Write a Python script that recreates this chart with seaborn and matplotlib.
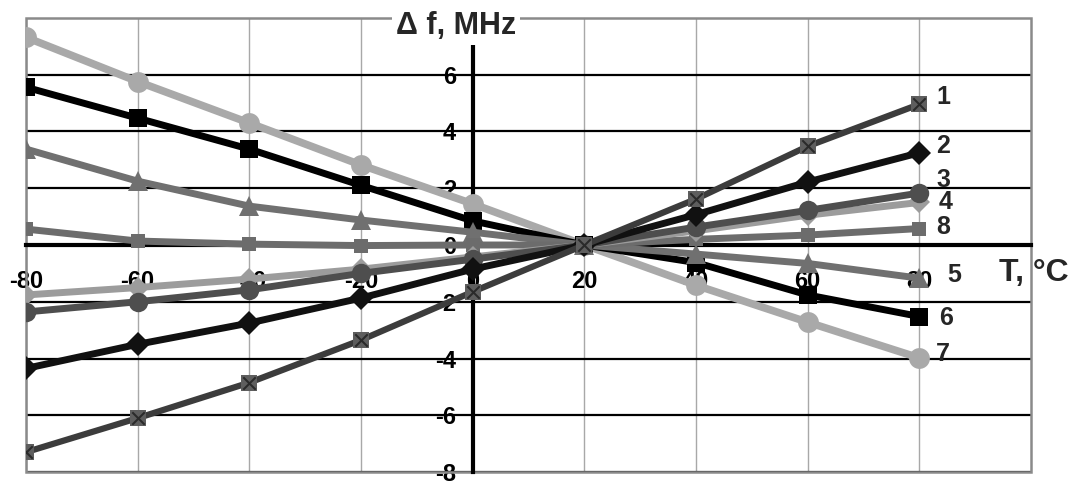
import numpy as np
import pandas as pd
import matplotlib
matplotlib.use("Agg")
import matplotlib.pyplot as plt
import seaborn as sns
from matplotlib.patches import Rectangle

# ---- data ----
T = [-80, -60, -40, -20, 0, 20, 40, 60, 80]
s1 = [-7.30, -6.10, -4.85, -3.35, -1.65, 0.0, 1.62, 3.48, 4.96]
s2 = [-4.35, -3.50, -2.75, -1.87, -0.85, 0.0, 1.07, 2.22, 3.25]
s3 = [-2.36, -2.00, -1.58, -1.00, -0.50, 0.0, 0.63, 1.22, 1.83]
s4 = [-1.76, -1.50, -1.20, -0.85, -0.42, 0.0, 0.50, 1.05, 1.50]
s5 = [3.38, 2.25, 1.37, 0.88, 0.45, 0.0, -0.32, -0.65, -1.17]
s6 = [5.56, 4.47, 3.38, 2.10, 0.85, 0.0, -0.62, -1.76, -2.52]
s7 = [7.32, 5.76, 4.30, 2.82, 1.45, 0.0, -1.42, -2.72, -3.98]
s8 = [0.56, 0.14, 0.03, -0.02, 0.00, 0.0, 0.20, 0.35, 0.58]
series_names = ["1", "2", "3", "4", "5", "6", "7", "8"]
x_ticks = [-80, -60, -40, -20, 0, 20, 40, 60, 80]
y_ticks = [-8, -6, -4, -2, 0, 2, 4, 6]
x_label = "T, °C"
y_label = "\u0394 f, MHz"

values = {"1": s1, "2": s2, "3": s3, "4": s4, "5": s5, "6": s6, "7": s7, "8": s8}

# styles
styles = {
    "7": dict(color="#a9a9a9", marker="o", ms=15, lw=5.5),
    "6": dict(color="#000000", marker="s", ms=13, lw=5.0),
    "5": dict(color="#707070", marker="^", ms=14, lw=5.0),
    "8": dict(color="#6c6c6c", marker="s", ms=10, lw=5.0),
    "4": dict(color="#9c9c9c", marker="D", ms=11, lw=5.0),
    "3": dict(color="#4e4e4e", marker="o", ms=14, lw=5.0),
    "2": dict(color="#111111", marker="D", ms=12, lw=5.0),
    "1": dict(color="#3c3c3c", marker="s", ms=12, lw=4.5),
}
label_dy = {"1": 0.25, "2": 0.25, "3": 0.45, "4": 0.0, "8": 0.05, "5": 0.1, "6": -0.05, "7": 0.15}
label_dx = {"1": 3, "2": 3, "3": 3, "4": 3.5, "8": 3, "5": 5, "6": 3.5, "7": 3}

sns.set_theme(style="white")
plt.rcParams["font.family"] = ["Liberation Sans", "DejaVu Sans"]
plt.rcParams["font.weight"] = "bold"
plt.rcParams["axes.unicode_minus"] = False

fig = plt.figure(figsize=(10.73, 4.82), dpi=100)
ax = fig.add_axes([26 / 1073, 1 - 472 / 482, (1031 - 26) / 1073, (472 - 18) / 482])

order = ["7", "6", "5", "8", "4", "3", "2", "1"]
for i, name in enumerate(order):
    st = styles[name]
    df = pd.DataFrame({"T": T, "v": values[name]})
    sns.lineplot(data=df, x="T", y="v", ax=ax, color=st["color"], lw=st["lw"],
                 marker=st["marker"], markersize=st["ms"], markeredgewidth=0,
                 markerfacecolor=("#5e5e5e" if name == "1" else st["color"]),
                 zorder=3 + i, legend=False)
    if name == "1":
        sns.scatterplot(data=df, x="T", y="v", ax=ax, marker="x", s=80,
                        color="#2a2a2a", linewidth=1.5, zorder=3 + i + 0.5, legend=False)

for name in series_names:
    ax.text(T[-1] + label_dx[name], values[name][-1] + label_dy[name], name,
            fontsize=18, fontweight="bold", ha="left", va="center", zorder=20)

ax.set_xlim(-80, 100)
ax.set_ylim(-8, 8)
ax.set_xticks(x_ticks)
ax.set_yticks(y_ticks)
ax.set_xlabel("")
ax.set_ylabel("")

# grid
ax.yaxis.grid(True, color="black", lw=1.6, zorder=0)
ax.xaxis.grid(True, color="#a8a8a8", lw=1.0, zorder=0)
ax.set_axisbelow(True)

# axes through the origin
for side in ["top", "right"]:
    ax.spines[side].set_visible(False)
ax.spines["left"].set_position(("data", 0))
ax.spines["bottom"].set_position(("data", 0))
ax.spines["left"].set_bounds(-8, 7)
ax.spines["bottom"].set_bounds(-80, 100)
for side in ["left", "bottom"]:
    ax.spines[side].set_color("black")
    ax.spines[side].set_linewidth(3.0)
    ax.spines[side].set_zorder(2)

ax.tick_params(axis="both", which="major", direction="out", length=6, width=2.5,
               color="black", labelsize=17, labelcolor="black")
ax.tick_params(axis="x", pad=12)
ax.tick_params(axis="y", pad=6)
for lab in ax.get_xticklabels() + ax.get_yticklabels():
    lab.set_fontweight("bold")

# outer frame
ax.add_patch(Rectangle((0, 0), 1, 1, transform=ax.transAxes, fill=False,
                       edgecolor="#8a8a8a", lw=1.8, zorder=1, clip_on=False))

ax.text(-3.0, 7.72, y_label, fontsize=22, fontweight="bold", ha="center", va="center",
        bbox=dict(facecolor="white", edgecolor="none", pad=3), zorder=25, clip_on=False)
ax.text(100.5, -1.0, x_label, fontsize=23, fontweight="bold", ha="center", va="center",
        zorder=25, clip_on=False)

fig.savefig("out.png", dpi=100)
